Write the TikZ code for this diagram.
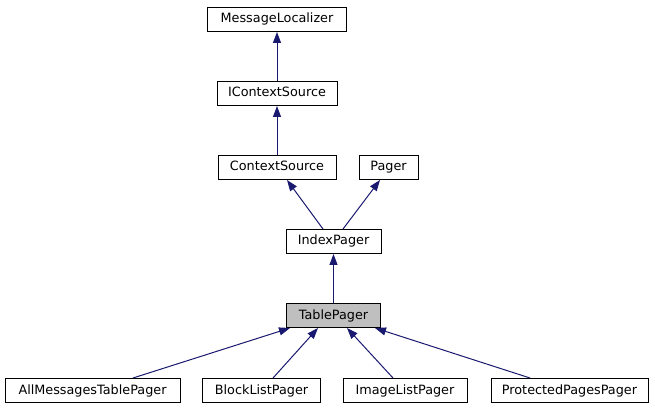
\documentclass[tikz,border=0pt]{standalone}
\usepackage{fontspec}
\setmainfont{DejaVu Sans}
\usetikzlibrary{arrows.meta}
\definecolor{edgeblue}{HTML}{191970}
\definecolor{hlgrey}{HTML}{BFBFBF}
\tikzset{
  cls/.style={draw=black, line width=1pt, fill=white, minimum height=24pt, inner sep=0pt, text height=9.5pt, text depth=2.5pt, font=\fontsize{12.8}{15}\selectfont},
  edge/.style={draw=edgeblue, line width=1pt, -{Triangle[length=11pt,width=8pt]}},
}
\begin{document}
\begin{tikzpicture}[x=1pt,y=-1pt]
\useasboundingbox[fill=white] (0,0) rectangle (655,411);
\node[cls, minimum width=139pt] (ml) at (277,19.5) {MessageLocalizer};
\node[cls, minimum width=120pt] (ics) at (277,93.5) {IContextSource};
\node[cls, minimum width=118pt] (cs) at (277,167.5) {ContextSource};
\node[cls, minimum width=59pt] (pg) at (388.5,167.5) {Pager};
\node[cls, minimum width=95pt] (ip) at (333.5,241.5) {IndexPager};
\node[cls, minimum width=94pt, fill=hlgrey] (tp) at (333.5,315.5) {TablePager};
\node[cls, minimum width=175pt] (am) at (92.5,390.5) {AllMessagesTablePager};
\node[cls, minimum width=118pt] (bl) at (261.5,390.5) {BlockListPager};
\node[cls, minimum width=124pt] (il) at (405,390.5) {ImageListPager};
\node[cls, minimum width=157pt] (pp) at (569.5,390.5) {ProtectedPagesPager};
\draw[edge] (ics.north) -- (ml.south);
\draw[edge] (cs.north) -- (ics.south);
\draw[edge] ([xshift=-10.5pt]ip.north) -- ([xshift=10pt]cs.south);
\draw[edge] ([xshift=9.5pt]ip.north) -- ([xshift=-8.5pt]pg.south);
\draw[edge] (tp.north) -- (ip.south);
\draw[edge] ([xshift=40.5pt]am.north) -- ([xshift=-43.5pt]tp.south);
\draw[edge] ([xshift=11.5pt]bl.north) -- ([xshift=-15.5pt]tp.south);
\draw[edge] ([xshift=-12pt]il.north) -- ([xshift=13.5pt]tp.south);
\draw[edge] ([xshift=-39.5pt]pp.north) -- ([xshift=41.5pt]tp.south);
\end{tikzpicture}
\end{document}
